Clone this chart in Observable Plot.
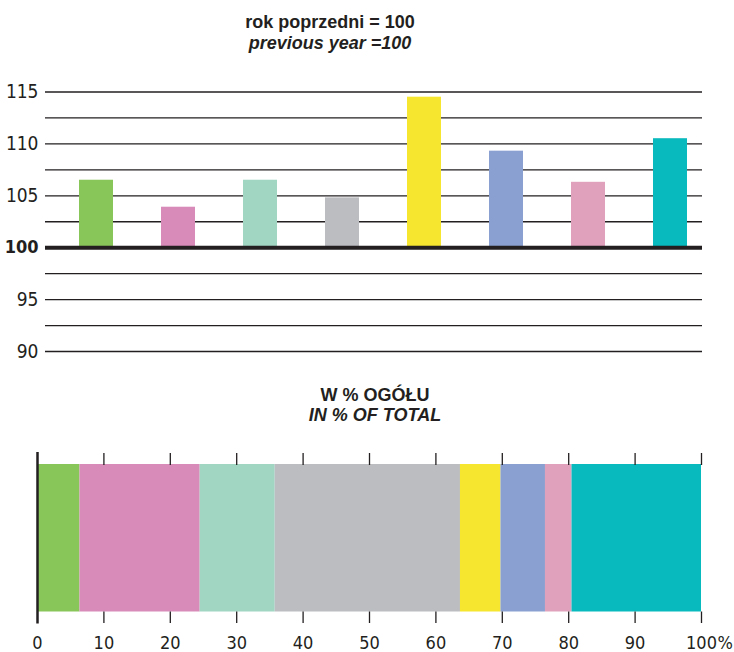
<!DOCTYPE html>
<html><head><meta charset="utf-8">
<script src="https://cdn.jsdelivr.net/npm/d3@7"></script>
<script src="https://cdn.jsdelivr.net/npm/@observablehq/plot@0.6"></script>
<style>
body{margin:0;background:#fff;font-family:"Liberation Sans",Arial,sans-serif;}
#wrap{position:relative;width:734px;height:652px;overflow:hidden;}
.t{position:absolute;width:300px;text-align:center;font-weight:bold;font-size:18px;color:#231f20;line-height:1;white-space:nowrap}
.i{font-style:italic}
#topChart{position:absolute;left:0;top:70px}
#botChart{position:absolute;left:0;top:440px}
</style></head><body><div id="wrap">
<div class="t" style="left:180px;top:13px">rok poprzedni = 100</div>
<div class="t i" style="left:180px;top:34px">previous year =100</div>
<div class="t" style="left:225px;top:386px">W % OGÓŁU</div>
<div class="t i" style="left:225px;top:406px">IN % OF TOTAL</div>
<div id="topChart"></div>
<div id="botChart"></div>
</div>
<script>
const categories = ["1", "2", "3", "4", "5", "6", "7", "8"];
const indexValues = [106.5, 103.9, 106.5, 104.8, 114.5, 109.3, 106.3, 110.5];
const shares = [6.4, 18.1, 11.3, 27.9, 6.1, 6.7, 4.0, 19.5];
const colors = ["#88c65a", "#d88bb9", "#a0d6c2", "#bcbdc0", "#f6e630", "#8aa0d1", "#e0a1bc", "#08b9bd"];
const yTickLabels = [90, 95, 105, 110, 115];
const baseValue = [100];
const gridLines = [90, 92.5, 95, 97.5, 102.5, 105, 107.5, 110, 112.5, 115];
const xTicks = [10, 20, 30, 40, 50, 60, 70, 80, 90, 100];
const xTickLabels = [0, 10, 20, 30, 40, 50, 60, 70, 80, 90, 100];

const table = categories.map((c, i) => ({cat: c, value: indexValues[i], share: shares[i], color: colors[i]}));
const ink = "#231f20";
const tickFont = '"Liberation Sans Narrow","DejaVu Sans Condensed","Liberation Sans",sans-serif';

const topPlot = Plot.plot({
  width: 734, height: 300,
  marginLeft: 45, marginRight: 32, marginTop: 21.5, marginBottom: 19,
  style: {fontFamily: tickFont, fontSize: "19px", color: ink, background: "transparent"},
  x: {domain: categories, range: [53, 713], paddingInner: 0.59, paddingOuter: 0.295, axis: null},
  y: {domain: [90, 115], axis: null},
  color: {type: "identity"},
  marks: [
    Plot.ruleY(gridLines, {stroke: ink, strokeWidth: 1.3}),
    Plot.barY(table, {x: "cat", y1: 100, y2: "value", fill: "color"}),
    Plot.ruleY(baseValue, {stroke: ink, strokeWidth: 4}),
    Plot.axisY({ticks: yTickLabels, tickSize: 0, tickPadding: 7, fontSize: 19, fill: ink, label: null}),
    Plot.axisY({ticks: baseValue, tickSize: 0, tickPadding: 7, fontSize: 18, fontWeight: "bold", fill: ink, label: null})
  ]
});
document.getElementById("topChart").appendChild(topPlot);

const botPlot = Plot.plot({
  width: 734, height: 212,
  marginLeft: 37, marginRight: 33, marginTop: 24, marginBottom: 40.5,
  style: {fontFamily: tickFont, fontSize: "18px", color: ink, background: "transparent"},
  x: {domain: [0, 100], axis: null},
  color: {type: "identity"},
  marks: [
    Plot.barX(table, Plot.stackX({x: "share", fill: "color"})),
    Plot.axisX({anchor: "top", ticks: xTicks, tickSize: 12, tickFormat: () => "", stroke: ink, strokeWidth: 1.3, label: null}),
    Plot.axisX({anchor: "bottom", ticks: xTicks, tickSize: 11.5, tickFormat: () => "", stroke: ink, strokeWidth: 1.3, label: null}),
    Plot.axisX({anchor: "bottom", ticks: xTickLabels, tickSize: 0, tickPadding: 24, fontSize: 18, fill: ink, label: null}),
    Plot.ruleX([0], {stroke: ink, strokeWidth: 2.5, insetTop: -12, insetBottom: -12}),
    Plot.text(["%"], {x: 100, frameAnchor: "bottom", lineAnchor: "top", dy: 24, dx: 16, textAnchor: "start", fontSize: 18, fill: ink})
  ]
});
document.getElementById("botChart").appendChild(botPlot);
</script>
</body></html>
